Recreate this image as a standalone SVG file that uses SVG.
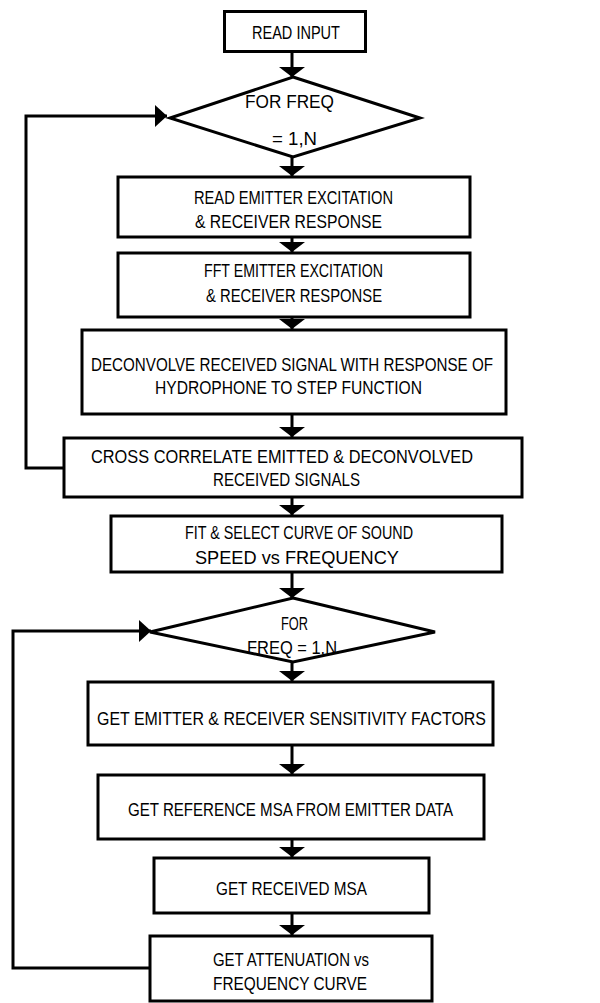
<svg xmlns="http://www.w3.org/2000/svg" width="600" height="1003" viewBox="0 0 600 1003">
<style>
.box{fill:#fff;stroke:#000;stroke-width:3}
.t{font-family:"Liberation Sans",Arial,sans-serif;font-size:19px;fill:#000}
.c{fill:none;stroke:#000;stroke-width:3}
</style>
<defs>
<marker id="av" markerUnits="userSpaceOnUse" markerWidth="12" markerHeight="28" refX="10" refY="14" orient="auto" viewBox="0 0 12 28">
<path d="M0,1 L10,14 L0,27 z" fill="#000"/>
</marker>
<marker id="ah" markerUnits="userSpaceOnUse" markerWidth="14" markerHeight="24" refX="13" refY="12" orient="auto" viewBox="0 0 14 24">
<path d="M1,1 L13,12 L1,23 z" fill="#000"/>
</marker>
</defs>
<rect width="600" height="1003" fill="#fff"/>
<g id="connectors">
<line class="c" x1="292" y1="52" x2="292" y2="77" marker-end="url(#av)"/>
<line class="c" x1="292" y1="157" x2="292" y2="176" marker-end="url(#av)"/>
<line class="c" x1="292" y1="237" x2="292" y2="252" marker-end="url(#av)"/>
<line class="c" x1="292" y1="317" x2="292" y2="329" marker-end="url(#av)"/>
<line class="c" x1="292" y1="414" x2="292" y2="437" marker-end="url(#av)"/>
<line class="c" x1="292" y1="497" x2="292" y2="515" marker-end="url(#av)"/>
<line class="c" x1="292" y1="572" x2="292" y2="598" marker-end="url(#av)"/>
<line class="c" x1="292" y1="662" x2="292" y2="681" marker-end="url(#av)"/>
<line class="c" x1="292" y1="745" x2="292" y2="774" marker-end="url(#av)"/>
<line class="c" x1="292" y1="839" x2="292" y2="857" marker-end="url(#av)"/>
<line class="c" x1="292" y1="913" x2="292" y2="935" marker-end="url(#av)"/>
<polyline class="c" points="64,468 26,468 26,116 167,116" marker-end="url(#ah)"/>
<polyline class="c" points="150,968 13,968 13,631 151,631" marker-end="url(#ah)"/>
</g>
<g id="read-input">
<rect class="box" x="224.5" y="11.5" width="141" height="40"/>
<text class="t" x="252" y="39" textLength="88" lengthAdjust="spacingAndGlyphs">READ INPUT</text>
</g>
<g id="for-freq-1">
<polygon class="box" points="293,77 420,118 293,157 170,118"/>
<text class="t" x="245" y="108" textLength="89" lengthAdjust="spacingAndGlyphs">FOR FREQ</text>
<text class="t" x="272" y="145" textLength="45" lengthAdjust="spacingAndGlyphs">= 1,N</text>
</g>
<g id="read-emitter">
<rect class="box" x="118" y="177" width="352" height="60"/>
<text class="t" x="194" y="204" textLength="199" lengthAdjust="spacingAndGlyphs">READ EMITTER EXCITATION</text>
<text class="t" x="195" y="228" textLength="187" lengthAdjust="spacingAndGlyphs">&amp; RECEIVER RESPONSE</text>
</g>
<g id="fft">
<rect class="box" x="118" y="253" width="352" height="64"/>
<text class="t" x="204" y="277" textLength="179" lengthAdjust="spacingAndGlyphs">FFT EMITTER EXCITATION</text>
<text class="t" x="206" y="302" textLength="176" lengthAdjust="spacingAndGlyphs">&amp; RECEIVER RESPONSE</text>
</g>
<g id="deconvolve">
<rect class="box" x="82" y="330" width="424" height="84"/>
<text class="t" x="91" y="371" textLength="402" lengthAdjust="spacingAndGlyphs">DECONVOLVE RECEIVED SIGNAL WITH RESPONSE OF</text>
<text class="t" x="155" y="394" textLength="267" lengthAdjust="spacingAndGlyphs">HYDROPHONE TO STEP FUNCTION</text>
</g>
<g id="cross-correlate">
<rect class="box" x="64" y="438" width="458" height="59"/>
<text class="t" x="91" y="463" textLength="382" lengthAdjust="spacingAndGlyphs">CROSS CORRELATE EMITTED &amp; DECONVOLVED</text>
<text class="t" x="213" y="486" textLength="147" lengthAdjust="spacingAndGlyphs">RECEIVED SIGNALS</text>
</g>
<g id="fit-select">
<rect class="box" x="111" y="516" width="391" height="56"/>
<text class="t" x="185" y="539" textLength="228" lengthAdjust="spacingAndGlyphs">FIT &amp; SELECT CURVE OF SOUND</text>
<text class="t" x="195" y="564" textLength="204" lengthAdjust="spacingAndGlyphs">SPEED vs FREQUENCY</text>
</g>
<g id="for-freq-2">
<polygon class="box" points="293,598 435,632 293,662 150,632"/>
<text class="t" x="281" y="630" textLength="27" lengthAdjust="spacingAndGlyphs">FOR</text>
<text class="t" x="247" y="654" textLength="90" lengthAdjust="spacingAndGlyphs">FREQ = 1,N</text>
</g>
<g id="sensitivity">
<rect class="box" x="88" y="682" width="405" height="63"/>
<text class="t" x="97" y="725" textLength="389" lengthAdjust="spacingAndGlyphs">GET EMITTER &amp; RECEIVER SENSITIVITY FACTORS</text>
</g>
<g id="reference-msa">
<rect class="box" x="98" y="775" width="386" height="64"/>
<text class="t" x="128" y="816" textLength="325" lengthAdjust="spacingAndGlyphs">GET REFERENCE MSA FROM EMITTER DATA</text>
</g>
<g id="received-msa">
<rect class="box" x="154" y="858" width="275" height="55"/>
<text class="t" x="216" y="895" textLength="151" lengthAdjust="spacingAndGlyphs">GET RECEIVED MSA</text>
</g>
<g id="attenuation">
<rect class="box" x="150" y="936" width="282" height="65"/>
<text class="t" x="213" y="966" textLength="156" lengthAdjust="spacingAndGlyphs">GET ATTENUATION vs</text>
<text class="t" x="213" y="990" textLength="154" lengthAdjust="spacingAndGlyphs">FREQUENCY CURVE</text>
</g>
</svg>
